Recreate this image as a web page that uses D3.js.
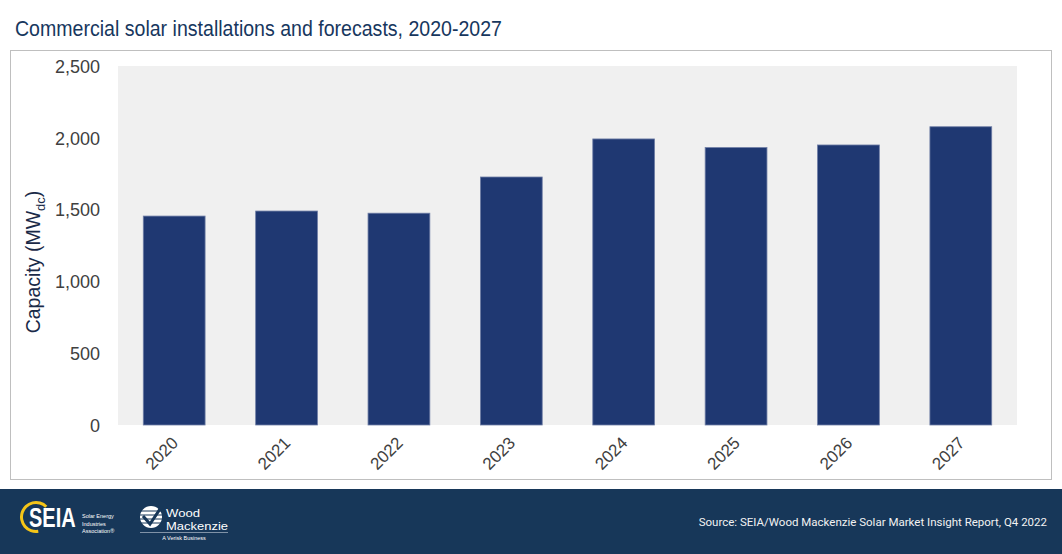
<!DOCTYPE html>
<html lang="en">
<head>
<meta charset="UTF-8">
<title>Commercial solar installations and forecasts, 2020-2027</title>
<script src="https://d3js.org/d3.v7.min.js"></script>
<style>
    body { margin: 0; background: #fff; }
    svg { display: block; font-family: "Liberation Sans", Arial, sans-serif; }
    .axis text { fill: #404040; font-size: 18px; }
    .xaxis text { font-size: 17px; }
</style>
</head>
<body>
<svg id="chart"></svg>
<script>
// Data (MWdc)
var years = ["2020", "2021", "2022", "2023", "2024", "2025", "2026", "2027"];
var capacity = [1455, 1490, 1475, 1727, 1992, 1932, 1950, 2077];
var yTicks = [0, 500, 1000, 1500, 2000, 2500];

var W = 1062, H = 554;
var plot = { left: 118, right: 1017, top: 66, bottom: 425 };

var svg = d3.select("#chart").attr("width", W).attr("height", H);

// Title
svg.append("text")
    .attr("x", 15).attr("y", 36)
    .attr("fill", "#17375e")
    .attr("textLength", 487)
    .attr("lengthAdjust", "spacingAndGlyphs")
    .style("font-size", "22px")
    .text("Commercial solar installations and forecasts, 2020-2027");

// outer frame
svg.append("rect")
    .attr("x", 10.5).attr("y", 50.5)
    .attr("width", 1041).attr("height", 429)
    .attr("fill", "#fff").attr("stroke", "#bfbfbf").attr("stroke-width", 1);

// plot background
svg.append("rect")
    .attr("x", plot.left).attr("y", plot.top)
    .attr("width", plot.right - plot.left).attr("height", plot.bottom - plot.top)
    .attr("fill", "#f0f0f0");

var x = d3.scaleBand().domain(years).range([plot.left, plot.right])
    .paddingInner(0.45).paddingOuter(0.225);
var y = d3.scaleLinear().domain([0, 2500]).range([plot.bottom, plot.top]);

// Bars
svg.selectAll(".bar")
    .data(years.map(function(d, i) { return { year: d, value: capacity[i] }; }))
    .enter().append("rect")
    .attr("class", "bar")
    .attr("x", d => x(d.year))
    .attr("width", x.bandwidth())
    .attr("y", d => y(d.value))
    .attr("height", d => y(0) - y(d.value))
    .attr("fill", "#1f3872")
    .attr("stroke", "#6f7ea6")
    .attr("stroke-width", 0.8);

// y-axis
var yAxis = svg.append("g")
    .attr("class", "axis")
    .attr("transform", "translate(" + (plot.left - 18) + ",0)")
    .call(d3.axisLeft(y).tickValues(yTicks).tickSize(0).tickPadding(0).tickFormat(d3.format(",")));
yAxis.select(".domain").remove();
yAxis.selectAll("text").attr("dy", "0.35em");

// x-axis
var xAxis = svg.append("g")
    .attr("class", "axis xaxis")
    .attr("transform", "translate(0," + plot.bottom + ")")
    .call(d3.axisBottom(x).tickSize(0).tickPadding(0));
xAxis.select(".domain").remove();
xAxis.selectAll("text")
    .attr("text-anchor", "end")
    .attr("x", 0).attr("y", 0).attr("dy", 0)
    .attr("transform", "translate(5,19) rotate(-45)");

// y-axis title
var yt = svg.append("text")
    .attr("transform", "translate(40,262) rotate(-90)")
    .attr("text-anchor", "middle")
    .attr("fill", "#1a2a48")
    .style("font-size", "19.5px");
yt.append("tspan").text("Capacity (MW");
yt.append("tspan").attr("dy", 5).style("font-size", "13px").text("dc");
yt.append("tspan").attr("dy", -5).text(")");

// Footer band
var foot = svg.append("g");
foot.append("rect").attr("x", 0).attr("y", 489).attr("width", W).attr("height", H - 489).attr("fill", "#173759");
foot.append("text")
    .attr("x", 1047).attr("y", 526)
    .attr("text-anchor", "end")
    .attr("fill", "#f2f2f2")
    .style("font-family", "Roboto, sans-serif")
    .style("font-size", "11.5px")
    .text("Source: SEIA/Wood Mackenzie Solar Market Insight Report, Q4 2022");

// SEIA logo
var seia = foot.append("g");
seia.append("path")
    .attr("d", d3.arc()({ innerRadius: 13, outerRadius: 16, startAngle: Math.PI * 0.95, endAngle: Math.PI * 2.25 }))
    .attr("transform", "translate(36,517)")
    .attr("fill", "#f5c518");
seia.append("text")
    .attr("transform", "translate(29,527) scale(0.74,1)")
    .attr("fill", "#fff")
    .style("font-weight", "bold")
    .style("font-size", "27px")
    .text("SEIA");
["Solar Energy", "Industries", "Association\u00ae"].forEach(function(t, i) {
    seia.append("text")
        .attr("x", 82).attr("y", 518 + i * 7.5)
        .attr("fill", "#fff")
        .style("font-size", "5.5px")
        .text(t);
});

// Wood Mackenzie logo
var wm = foot.append("g");
wm.append("circle").attr("cx", 151).attr("cy", 517).attr("r", 11).attr("fill", "#fff");
[511, 515, 519, 523].forEach(function(yy) {
    wm.append("line").attr("x1", 140).attr("x2", 162).attr("y1", yy).attr("y2", yy)
        .attr("stroke", "#173759").attr("stroke-width", 1);
});
wm.append("path").attr("d", "M143,516 L150,524 L162,506")
    .attr("fill", "none").attr("stroke", "#173759").attr("stroke-width", 3);
wm.append("text").attr("x", 166).attr("y", 517).attr("fill", "#fff").style("font-size", "11.5px")
    .attr("textLength", 34).attr("lengthAdjust", "spacingAndGlyphs").text("Wood");
wm.append("text").attr("x", 166).attr("y", 530).attr("fill", "#fff").style("font-size", "11.5px")
    .attr("textLength", 62).attr("lengthAdjust", "spacingAndGlyphs").text("Mackenzie");
wm.append("line").attr("x1", 140).attr("x2", 228).attr("y1", 532.5).attr("y2", 532.5).attr("stroke", "#c8d0dc").attr("stroke-width", 0.6);
wm.append("text").attr("x", 184).attr("y", 540).attr("text-anchor", "middle").attr("fill", "#fff").style("font-size", "5.5px").text("A Verisk Business");
</script>
</body>
</html>
